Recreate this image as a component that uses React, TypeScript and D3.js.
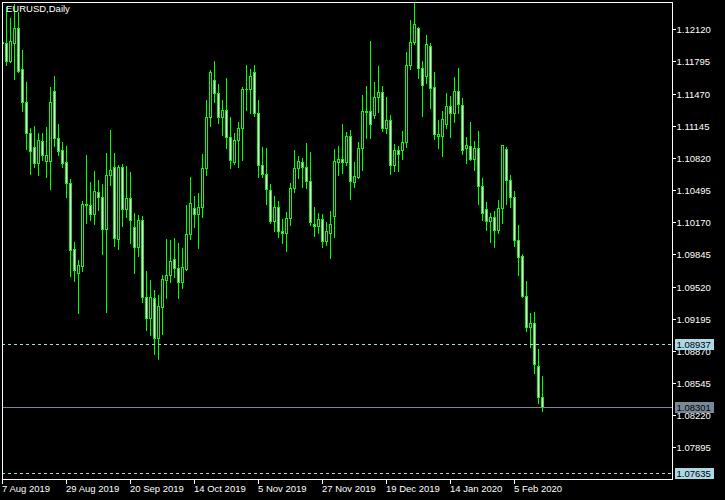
import React from 'react';
import * as d3 from 'd3';

// ---- data (EURUSD daily) ----
const opens = [
  1.11992, 1.11982, 1.11800, 1.11982, 1.12133, 1.11719, 1.11386, 1.11073, 1.10931, 1.10770,
  1.10992, 1.10790, 1.10790, 1.11497, 1.11022, 1.10901, 1.10780, 1.10568, 1.09901, 1.09659,
  1.09729, 1.10345, 1.10345, 1.10255, 1.10477, 1.10426, 1.10103, 1.10648, 1.10729, 1.10002,
  1.10729, 1.10305, 1.10416, 1.10123, 1.09921, 1.10194, 1.09416, 1.09204, 1.09406, 1.09002,
  1.09315, 1.09588, 1.09638, 1.09800, 1.09709, 1.09568, 1.09699, 1.10053, 1.10315, 1.10255,
  1.10325, 1.10719, 1.11234, 1.11608, 1.11477, 1.11234, 1.11305, 1.11032, 1.10780, 1.11002,
  1.11123, 1.11517, 1.11517, 1.11689, 1.11275, 1.10749, 1.10659, 1.10497, 1.10184, 1.10325,
  1.10083, 1.10063, 1.10214, 1.10517, 1.10719, 1.10780, 1.10729, 1.10588, 1.10154, 1.10133,
  1.10204, 1.09982, 1.10063, 1.10234, 1.10780, 1.10810, 1.10780, 1.11042, 1.10578, 1.10628,
  1.10921, 1.11295, 1.11295, 1.11254, 1.11436, 1.11487, 1.11123, 1.11204, 1.10749, 1.10901,
  1.10901, 1.10982, 1.11759, 1.11992, 1.12133, 1.11729, 1.11648, 1.11951, 1.11537, 1.11042,
  1.11042, 1.11164, 1.11345, 1.11275, 1.11497, 1.11355, 1.10921, 1.10941, 1.10810, 1.10921,
  1.10537, 1.10305, 1.10184, 1.10224, 1.10093, 1.10315, 1.10911, 1.10598, 1.10426, 1.09992,
  1.09830, 1.09426, 1.09113, 1.09154, 1.08719, 1.08406,
];
const highs = [
  1.12052, 1.12345, 1.12234, 1.12376, 1.12295, 1.11911, 1.11588, 1.11123, 1.11143, 1.11073,
  1.11073, 1.11133, 1.11537, 1.11648, 1.11164, 1.10982, 1.10941, 1.10608, 1.09972, 1.09790,
  1.10386, 1.10850, 1.10578, 1.10689, 1.10598, 1.10558, 1.10871, 1.11103, 1.10871, 1.10749,
  1.10760, 1.10739, 1.10679, 1.10265, 1.10244, 1.10234, 1.09679, 1.09588, 1.09487, 1.09436,
  1.09638, 1.10002, 1.09992, 1.10012, 1.09962, 1.09911, 1.10345, 1.10628, 1.10436, 1.10467,
  1.10861, 1.11406, 1.11709, 1.11800, 1.11568, 1.11406, 1.11628, 1.11234, 1.11073, 1.11184,
  1.11537, 1.11759, 1.11719, 1.11759, 1.11406, 1.10931, 1.10921, 1.10558, 1.10436, 1.10386,
  1.10204, 1.10275, 1.10568, 1.10901, 1.10840, 1.10820, 1.10972, 1.10881, 1.10325, 1.10265,
  1.10255, 1.10174, 1.10285, 1.10911, 1.10941, 1.11164, 1.11083, 1.11103, 1.10780, 1.10982,
  1.11456, 1.11547, 1.12002, 1.11588, 1.11749, 1.11547, 1.11436, 1.11254, 1.10962, 1.10941,
  1.11093, 1.11891, 1.12214, 1.12386, 1.12143, 1.11800, 1.12062, 1.11982, 1.11689, 1.11204,
  1.11295, 1.11477, 1.11446, 1.11638, 1.11729, 1.11426, 1.11032, 1.11184, 1.10992, 1.11093,
  1.10618, 1.10376, 1.10265, 1.10285, 1.10396, 1.10955, 1.10931, 1.10648, 1.10487, 1.10143,
  1.09851, 1.09578, 1.09255, 1.09265, 1.08891, 1.08618,
];
const lows = [
  1.11931, 1.11759, 1.11790, 1.11618, 1.11689, 1.11295, 1.10911, 1.10659, 1.10729, 1.10648,
  1.10800, 1.10628, 1.10507, 1.10941, 1.10850, 1.10729, 1.10426, 1.09628, 1.09578, 1.09255,
  1.09679, 1.10164, 1.10194, 1.10154, 1.10295, 1.09851, 1.09265, 1.10547, 1.09931, 1.09901,
  1.10133, 1.10224, 1.09962, 1.09659, 1.09830, 1.09366, 1.09083, 1.09032, 1.08841, 1.08790,
  1.09043, 1.09406, 1.09568, 1.09618, 1.09406, 1.09507, 1.09689, 1.10002, 1.10123, 1.09911,
  1.10224, 1.10648, 1.11143, 1.11386, 1.11174, 1.11052, 1.10921, 1.10719, 1.10760, 1.10729,
  1.10800, 1.11305, 1.11275, 1.11244, 1.10628, 1.10628, 1.10356, 1.10164, 1.10083, 1.10022,
  1.09962, 1.09881, 1.10143, 1.10477, 1.10618, 1.10527, 1.10517, 1.10143, 1.10032, 1.10063,
  1.09921, 1.09941, 1.09810, 1.10022, 1.10648, 1.10669, 1.10749, 1.10406, 1.10527, 1.10618,
  1.10699, 1.11022, 1.11022, 1.11224, 1.11285, 1.11093, 1.11073, 1.10659, 1.10689, 1.10689,
  1.10810, 1.10931, 1.11719, 1.11972, 1.11628, 1.11244, 1.11578, 1.11325, 1.11012, 1.10921,
  1.10840, 1.11123, 1.11032, 1.11184, 1.11275, 1.10861, 1.10770, 1.10800, 1.10699, 1.10356,
  1.10194, 1.10093, 1.09972, 1.09921, 1.10063, 1.10164, 1.10356, 1.10325, 1.09931, 1.09638,
  1.09416, 1.09073, 1.08911, 1.08649, 1.08346, 1.08265,
];
const closes = [
  1.11982, 1.11800, 1.12002, 1.12133, 1.11699, 1.11386, 1.11073, 1.10891, 1.10770, 1.11002,
  1.10850, 1.10850, 1.11386, 1.11022, 1.10891, 1.10770, 1.10568, 1.09891, 1.09689, 1.09739,
  1.10356, 1.10350, 1.10255, 1.10487, 1.10426, 1.10103, 1.10648, 1.10699, 1.10012, 1.10729,
  1.10305, 1.10416, 1.10194, 1.09921, 1.10194, 1.09416, 1.09204, 1.09416, 1.09002, 1.09325,
  1.09598, 1.09638, 1.09780, 1.09709, 1.09568, 1.09719, 1.10053, 1.10366, 1.10255, 1.10325,
  1.10719, 1.11234, 1.11689, 1.11477, 1.11234, 1.11305, 1.11032, 1.10800, 1.11002, 1.11123,
  1.11517, 1.11515, 1.11648, 1.11275, 1.10749, 1.10659, 1.10507, 1.10184, 1.10325, 1.10083,
  1.10063, 1.10214, 1.10517, 1.10719, 1.10790, 1.10729, 1.10588, 1.10174, 1.10133, 1.10204,
  1.09982, 1.10083, 1.10154, 1.10790, 1.10810, 1.10780, 1.11042, 1.10588, 1.10638, 1.10921,
  1.11295, 1.11285, 1.11164, 1.11436, 1.11487, 1.11123, 1.11204, 1.10749, 1.10901, 1.10861,
  1.10982, 1.11759, 1.11992, 1.12174, 1.11729, 1.11557, 1.11972, 1.11527, 1.11063, 1.11063,
  1.11214, 1.11345, 1.11275, 1.11497, 1.11366, 1.10901, 1.10951, 1.10810, 1.10921, 1.10537,
  1.10265, 1.10184, 1.10224, 1.10093, 1.10315, 1.10951, 1.10598, 1.10426, 1.09992, 1.09820,
  1.09426, 1.09113, 1.09154, 1.08740, 1.08406, 1.08301,
];

const dateLabels = ['7 Aug 2019', '29 Aug 2019', '20 Sep 2019', '14 Oct 2019', '5 Nov 2019',
  '27 Nov 2019', '19 Dec 2019', '14 Jan 2020', '5 Feb 2020'];
const dateBarIndex = [0, 16, 32, 48, 64, 80, 96, 112, 128];

const priceTicks = [1.12120, 1.11795, 1.11470, 1.11145, 1.10820, 1.10495, 1.10170, 1.09845,
  1.09520, 1.09195, 1.08870, 1.08545, 1.08220, 1.07895];

const symbolTitle = 'EURUSD,Daily';
const currentPrice = 1.08301;
const upperLevel = 1.08937;
const lowerLevel = 1.07635;

// ---- layout ----
const W = 725;
const H = 500;
const L = 2, T = 2, R = 672, B = 479;
const FONT = '"Liberation Sans", Arial, sans-serif';
const LIME = '#00ff00';

export default function App() {
  const n = closes.length;
  const x = d3.scaleLinear().domain([0, n - 1]).range([2, 2 + 4 * (n - 1)]);
  const y = d3.scaleLinear().domain([1.07895, 1.12120]).range([447.3, 29.3]);
  const fmt = d3.format('.5f');

  const candles = d3.range(n).map((i) => {
    const px = Math.round(x(i));
    const o = opens[i], c = closes[i], h = highs[i], l = lows[i];
    const top = Math.round(y(Math.max(o, c)));
    const bot = Math.round(y(Math.min(o, c)));
    const hy = Math.round(y(h));
    const ly = Math.round(y(l));
    const bear = c < o;
    return (
      <g key={i}>
        <line x1={px + 0.5} x2={px + 0.5} y1={hy} y2={ly + 1} stroke={LIME} strokeWidth={1} />
        {bot - top >= 1 ? (
          <rect x={px - 0.5} y={top + 0.5} width={2} height={bot - top}
            fill={bear ? '#ffffff' : '#000000'} stroke={LIME} strokeWidth={1} />
        ) : (
          <line x1={px - 1} x2={px + 2} y1={top + 0.5} y2={top + 0.5} stroke={LIME} strokeWidth={1} />
        )}
      </g>
    );
  });

  const levelY = (p: number) => Math.round(y(p)) + 0.5;

  const priceBox = (p: number, fill: string, key: string) => {
    const cy = Math.round(y(p));
    return (
      <g key={key}>
        <rect x={675} y={cy - 5} width={39} height={11} fill={fill} />
        <text x={676.5} y={cy + 4} fill="#000000" fontSize={9.5} fontFamily={FONT}>{fmt(p)}</text>
      </g>
    );
  };

  return (
    <svg width={W} height={H} style={{ position: 'fixed', left: 0, top: 0, background: '#000' }}
      shapeRendering="crispEdges">
      <defs>
        <clipPath id="plot">
          <rect x={L + 1} y={T + 1} width={R - L - 1} height={B - T - 1} />
        </clipPath>
      </defs>
      <rect x={0} y={0} width={W} height={H} fill="#000000" />

      <g clipPath="url(#plot)">
        {candles}
        <line x1={L} x2={R} y1={levelY(upperLevel)} y2={levelY(upperLevel)} stroke="#add8e6" strokeDasharray="3,3" />
        <line x1={L} x2={R} y1={levelY(lowerLevel)} y2={levelY(lowerLevel)} stroke="#add8e6" strokeDasharray="3,3" />
        <line x1={L} x2={R} y1={levelY(currentPrice)} y2={levelY(currentPrice)} stroke="#778899" />
      </g>

      {/* frame */}
      <rect x={L + 0.5} y={T + 0.5} width={R - L} height={B - T} fill="none" stroke="#ffffff" strokeWidth={1} />

      {/* price axis */}
      {priceTicks.map((p) => {
        const ty = Math.round(y(p));
        return (
          <g key={p}>
            <line x1={R} x2={R + 4} y1={ty + 0.5} y2={ty + 0.5} stroke="#ffffff" />
            <text x={676.5} y={ty + 4} fill="#ffffff" fontSize={9.5} fontFamily={FONT}>{fmt(p)}</text>
          </g>
        );
      })}
      {priceBox(upperLevel, '#add8e6', 'up')}
      {priceBox(currentPrice, '#778899', 'cur')}
      {priceBox(lowerLevel, '#add8e6', 'low')}

      {/* time axis */}
      {dateBarIndex.map((bi, k) => {
        const px = Math.round(x(bi));
        return (
          <g key={bi}>
            <line x1={px + 0.5} x2={px + 0.5} y1={B} y2={B + 5} stroke="#ffffff" />
            <text x={px} y={492} fill="#ffffff" fontSize={9.5} fontFamily={FONT}>{dateLabels[k]}</text>
          </g>
        );
      })}

      <text x={6} y={12} fill="#ffffff" fontSize={9.5} fontFamily={FONT}>{symbolTitle}</text>
    </svg>
  );
}
